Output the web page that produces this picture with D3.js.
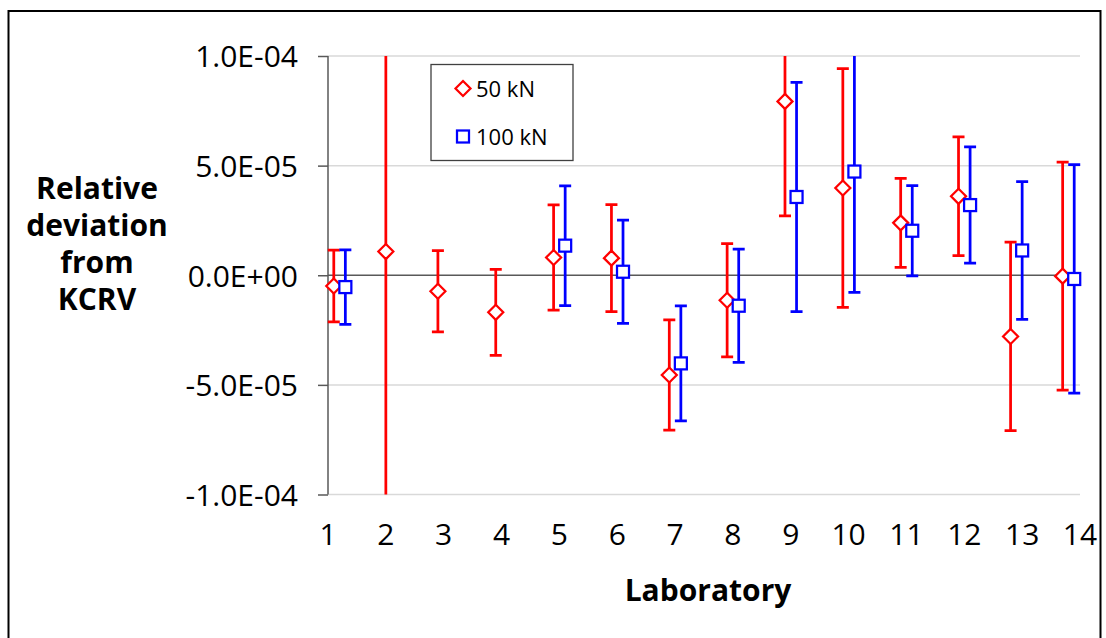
<!DOCTYPE html>
<html>
<head>
<meta charset="utf-8">
<script src="https://cdn.jsdelivr.net/npm/d3@7"></script>
<style>
	body { margin: 0; background: #fff; }
	text { font-family: "Open Sans", "DejaVu Sans", sans-serif; fill: #000; }
</style>
</head>
<body>
<svg id="chart" width="1106" height="638"></svg>
<script>

// laboratories on the x axis
var labs = [1, 2, 3, 4, 5, 6, 7, 8, 9, 10, 11, 12, 13, 14];

// 50 kN series: x position, relative deviation, expanded uncertainty
var x50 = [1.1, 2.0, 2.9, 3.9, 4.9, 5.9, 6.9, 7.9, 8.9, 9.9, 10.9, 11.9, 12.8, 13.7];
var dev50 = [-4.9e-6, 10.8e-6, -7.3e-6, -16.9e-6, 8.1e-6, 7.8e-6, -45.5e-6, -11.4e-6, 79.3e-6, 39.8e-6, 23.9e-6, 36.0e-6, -27.9e-6, -0.4e-6];
var unc50 = [16.4e-6, 150e-6, 18.5e-6, 19.6e-6, 24.0e-6, 24.4e-6, 25.1e-6, 25.8e-6, 52.2e-6, 54.4e-6, 20.3e-6, 27.1e-6, 43.0e-6, 52.0e-6];

// 100 kN series (not every lab measured it)
var x100 = [1.3, 5.1, 6.1, 7.1, 8.1, 9.1, 10.1, 11.1, 12.1, 13.0, 13.9];
var dev100 = [-5.4e-6, 13.5e-6, 1.6e-6, -40.2e-6, -13.9e-6, 35.7e-6, 47.3e-6, 20.3e-6, 32.0e-6, 11.3e-6, -1.7e-6];
var unc100 = [17.0e-6, 27.3e-6, 23.5e-6, 26.2e-6, 25.8e-6, 52.3e-6, 55.1e-6, 20.6e-6, 26.5e-6, 31.4e-6, 52.1e-6];

var yTicks = [-1e-4, -5e-5, 0, 5e-5, 1e-4];
var seriesNames = ['50 kN', '100 kN'];
var seriesColors = ['#ff0000', '#0000ff'];

(function() {

	var svg = d3.select('#chart');

	var left = 328,
		right = 1080,
		top = 56,
		bottom = 494.5;

	var x = d3.scaleLinear()
		.domain([1, 14])
		.range([left, right]);

	var y = d3.scaleLinear()
		.domain([-1e-4, 1e-4])
		.range([bottom, top]);

	// 1.0E-04 style labels
	function sci(v) {
		var s = v.toExponential(1).split('e');
		var e = +s[1];
		return s[0] + 'E' + (e < 0 ? '-' : '+') + d3.format('02d')(Math.abs(e));
	}

	// outer frame
	svg.append('rect')
		.attr('x', 8.5)
		.attr('y', 11)
		.attr('width', 1092)
		.attr('height', 660)
		.style('fill', 'none')
		.style('stroke', '#000')
		.style('stroke-width', 2);

	// gridlines
	svg.append('g')
		.selectAll('line')
		.data(yTicks.filter(function(d) { return d != 0; }))
		.enter().append('line')
		.attr('x1', left)
		.attr('x2', right)
		.attr('y1', function(d) { return y(d); })
		.attr('y2', function(d) { return y(d); })
		.style('stroke', '#d9d9d9')
		.style('stroke-width', 1.5);

	// y axis
	var yAxis = d3.axisLeft(y)
		.tickValues(yTicks)
		.tickSize(10)
		.tickPadding(20)
		.tickFormat(sci);

	var gy = svg.append('g')
		.attr('transform', 'translate(' + left + ',0)')
		.call(yAxis);

	gy.select('.domain').remove();
	gy.append('line')
		.attr('y1', top)
		.attr('y2', bottom)
		.style('stroke', '#595959')
		.style('stroke-width', 1.5);
	gy.selectAll('.tick line')
		.style('stroke', '#595959')
		.style('stroke-width', 1.5);
	gy.selectAll('.tick text')
		.style('font-size', '30px')
		.style('font-family', '"Open Sans", sans-serif')
		.attr('dy', '0.36em')
		.style('fill', '#000');

	// zero line works as the x axis
	svg.append('line')
		.attr('x1', left)
		.attr('x2', right)
		.attr('y1', y(0))
		.attr('y2', y(0))
		.style('stroke', '#595959')
		.style('stroke-width', 1.5);

	// x tick labels
	svg.append('g')
		.selectAll('text')
		.data(labs)
		.enter().append('text')
		.attr('x', function(d) { return x(d); })
		.attr('y', 545)
		.style('font-size', '30px')
		.style('text-anchor', 'middle')
		.text(function(d) { return d; });

	// axis titles
	svg.append('text')
		.attr('x', 708)
		.attr('y', 601)
		.style('font-size', '30px')
		.style('font-weight', 'bold')
		.style('text-anchor', 'middle')
		.text('Laboratory');

	svg.append('text')
		.style('font-size', '30px')
		.style('font-weight', 'bold')
		.style('text-anchor', 'middle')
		.selectAll('tspan')
		.data(['Relative', 'deviation', 'from', 'KCRV'])
		.enter().append('tspan')
		.attr('x', 97)
		.attr('y', function(d, i) { return 199 + i * 37; })
		.text(function(d) { return d; });

	// clip error bars to the plot area
	svg.append('clipPath')
		.attr('id', 'plotclip')
		.append('rect')
		.attr('x', left - 20)
		.attr('y', top)
		.attr('width', right - left + 40)
		.attr('height', bottom - top);

	var series = [
		{ name: seriesNames[0], color: seriesColors[0], shape: 'diamond',
			values: x50.map(function(d, i) { return { x: d, v: dev50[i], u: unc50[i] }; }) },
		{ name: seriesNames[1], color: seriesColors[1], shape: 'square',
			values: x100.map(function(d, i) { return { x: d, v: dev100[i], u: unc100[i] }; }) }
	];

	function marker(sel, shape, color) {
		if (shape == 'diamond') {
			sel.append('path')
				.attr('d', 'M0,-7.5L7.5,0L0,7.5L-7.5,0Z')
				.style('fill', '#fff')
				.style('stroke', color)
				.style('stroke-width', 2.25);
		} else {
			sel.append('rect')
				.attr('x', -6)
				.attr('y', -6)
				.attr('width', 12)
				.attr('height', 12)
				.style('fill', '#fff')
				.style('stroke', color)
				.style('stroke-width', 2.25);
		}
	}

	series.forEach(function(s) {

		var g = svg.append('g').attr('class', 'series');

		var bars = g.append('g')
			.attr('clip-path', 'url(#plotclip)')
			.selectAll('g')
			.data(s.values)
			.enter().append('g')
			.style('stroke', s.color)
			.style('stroke-width', 2.75);

		bars.append('line')
			.attr('x1', function(d) { return x(d.x); })
			.attr('x2', function(d) { return x(d.x); })
			.attr('y1', function(d) { return y(d.v + d.u); })
			.attr('y2', function(d) { return y(d.v - d.u); });

		[1, -1].forEach(function(sign) {
			bars.append('line')
				.attr('x1', function(d) { return x(d.x) - 6; })
				.attr('x2', function(d) { return x(d.x) + 6; })
				.attr('y1', function(d) { return y(d.v + sign * d.u); })
				.attr('y2', function(d) { return y(d.v + sign * d.u); });
		});

		g.selectAll('g.pt')
			.data(s.values)
			.enter().append('g')
			.attr('class', 'pt')
			.attr('transform', function(d) { return 'translate(' + x(d.x) + ',' + y(d.v) + ')'; })
			.each(function() { marker(d3.select(this), s.shape, s.color); });
	});

	// legend
	var legend = svg.append('g');

	legend.append('rect')
		.attr('x', 431)
		.attr('y', 64.5)
		.attr('width', 142)
		.attr('height', 96)
		.style('fill', '#fff')
		.style('stroke', '#404040')
		.style('stroke-width', 1.3);

	var items = legend.selectAll('g.item')
		.data(series)
		.enter().append('g')
		.attr('class', 'item')
		.attr('transform', function(d, i) { return 'translate(463,' + (88.5 + i * 48) + ')'; });

	items.each(function(d) { marker(d3.select(this), d.shape, d.color); });

	items.append('text')
		.attr('x', 13)
		.attr('y', 8)
		.style('font-size', '22px')
		.text(function(d) { return d.name; });

})();

</script>
</body>
</html>
